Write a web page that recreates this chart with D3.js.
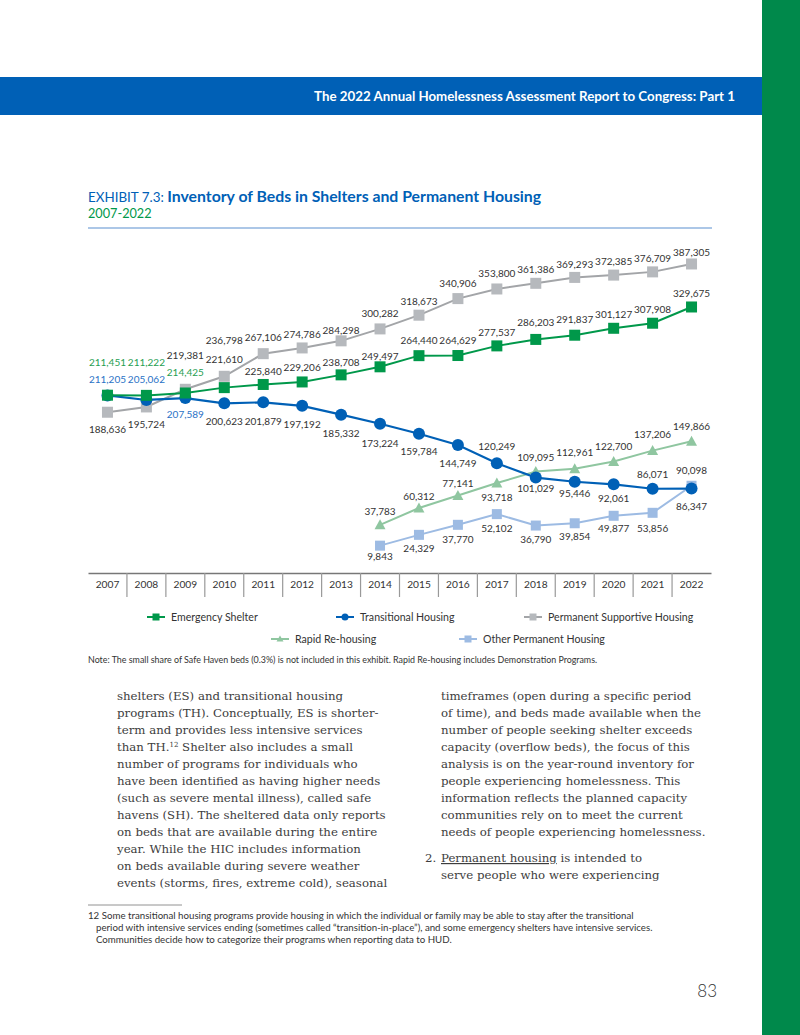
<!DOCTYPE html>
<html>
<head>
<meta charset="utf-8">
<script src="https://cdn.jsdelivr.net/npm/d3@7"></script>
<style>
  body { margin: 0; background: #fff; }
  svg text { font-family: Lato, "Open Sans", sans-serif; }
  .serif { font-family: "DejaVu Serif", serif !important; }
</style>
</head>
<body>
<svg id="page" width="800" height="1035"></svg>
<script>
const years = ["2007","2008","2009","2010","2011","2012","2013","2014","2015","2016","2017","2018","2019","2020","2021","2022"];
const emergencyShelter = [211451,211222,214425,221610,225840,229206,238708,249497,264440,264629,277537,286203,291837,301127,307908,329675];
const transitionalHousing = [211205,205062,207589,200623,201879,197192,185332,173224,159784,144749,120249,101029,95446,92061,86071,86347];
const permanentSupportive = [188636,195724,219381,236798,267106,274786,284298,300282,318673,340906,353800,361386,369293,372385,376709,387305];
const rapidRehousing = [null,null,null,null,null,null,null,37783,60312,77141,93718,109095,112961,122700,137206,149866];
const otherPermanent = [null,null,null,null,null,null,null,9843,24329,37770,52102,36790,39854,49877,53856,90098];

// label offsets (px above/below the marker)
const esDy  = [-33,-33,-21,-28,-13,-15,-13,-11,-15,-15,-14,-17,-16,-14,-14,-14];
const thDy  = [-16,-21,16,18,19,18,19,20,18,18,-17,11,12,14,-14,18];
const psDy  = [17,17,-34,-36,-16,-14,-11,-16,-14,-15,-16,-14,-13,-14,-14,-12];
const rrDy  = [0,0,0,0,0,0,0,-14,-12,-12,14,-14,-16,-15,-16,-15];
const opDy  = [0,0,0,0,0,0,0,11,13,14,14,14,13,13,15,-15];

const series = [
  { name: "Other Permanent Housing", values: otherPermanent, dy: opDy, color: "#9dbbe3", line: "#9dbbe3", shape: "square", size: 10, lw: 2 },
  { name: "Rapid Re-housing", values: rapidRehousing, dy: rrDy, color: "#8fc6a0", line: "#8fc6a0", shape: "triangle", size: 11, lw: 2 },
  { name: "Permanent Supportive Housing", values: permanentSupportive, dy: psDy, color: "#b6b9bd", line: "#a3a5a8", shape: "square", size: 11, lw: 2 },
  { name: "Transitional Housing", values: transitionalHousing, dy: thDy, color: "#0060b6", line: "#0060b6", shape: "circle", size: 12, lw: 2.2, labelColor: "#2a72c6", colored: 3 },
  { name: "Emergency Shelter", values: emergencyShelter, dy: esDy, color: "#00984a", line: "#00984a", shape: "square", size: 11, lw: 2, labelColor: "#1f9e52", colored: 3 }
];

const legendRows = [
  ["Emergency Shelter", "Transitional Housing", "Permanent Supportive Housing"],
  ["Rapid Re-housing", "Other Permanent Housing"]
];

const svg = d3.select("#page");
svg.append("rect").attr("width", 800).attr("height", 1035).attr("fill", "#fff");

// page chrome
svg.append("rect").attr("x", 762).attr("y", 0).attr("width", 38).attr("height", 1035).attr("fill", "#00894b");
svg.append("rect").attr("x", 0).attr("y", 77).attr("width", 762).attr("height", 38).attr("fill", "#0060b6");
svg.append("text").attr("x", 735).attr("y", 101).attr("text-anchor", "end")
  .attr("fill", "#fff").attr("font-size", 13.3).attr("font-weight", 700)
  .text("The 2022 Annual Homelessness Assessment Report to Congress: Part 1");

// title
const title = svg.append("text").attr("x", 88).attr("y", 202).attr("fill", "#0060b6");
title.append("tspan").attr("font-size", 13.4).text("EXHIBIT 7.3: ");
title.append("tspan").attr("font-size", 15.8).attr("font-weight", 700).text("Inventory of Beds in Shelters and Permanent Housing");
svg.append("text").attr("x", 88).attr("y", 218).attr("fill", "#00984a").attr("font-size", 12.7).text("2007-2022");
svg.append("line").attr("x1", 88).attr("x2", 712).attr("y1", 228).attr("y2", 228)
  .attr("stroke", "#5b8fcf").attr("stroke-width", 1.2);

// scales
const x = d3.scaleBand().domain(years).range([88, 711]);
const cx = d => x(d) + x.bandwidth() / 2;
const y = d3.scaleLinear().domain([0, 400000]).range([553, 254.5]);

// x axis with separators
const axisY = 573;
const gx = svg.append("g").attr("transform", `translate(0,${axisY})`)
  .call(d3.axisBottom(x).tickSize(0).tickPadding(8));
gx.select(".domain").attr("stroke", "#777").attr("stroke-width", 1.5);
gx.selectAll("text").attr("font-family", "Lato").attr("font-size", 10.2).attr("fill", "#333");
svg.append("g").selectAll("line").data(years.slice(1)).enter().append("line")
  .attr("x1", d => x(d)).attr("x2", d => x(d))
  .attr("y1", axisY).attr("y2", axisY + 24)
  .attr("stroke", "#999").attr("stroke-width", 1.2);

function marker(sel, shape, size, color) {
  if (shape === "circle") {
    sel.append("circle").attr("r", size / 2).attr("fill", color);
  } else if (shape === "triangle") {
    sel.append("path").attr("d", `M0,${-size / 2}L${size / 2},${size / 2 - 1}L${-size / 2},${size / 2 - 1}Z`).attr("fill", color);
  } else {
    sel.append("rect").attr("x", -size / 2).attr("y", -size / 2).attr("width", size).attr("height", size).attr("fill", color);
  }
}

const line = d3.line().defined(d => d.v != null).x(d => cx(d.year)).y(d => y(d.v));

series.forEach(s => {
  const pts = years.map((yr, i) => ({ year: yr, v: s.values[i], i }));
  svg.append("path").datum(pts).attr("d", line)
    .attr("fill", "none").attr("stroke", s.line).attr("stroke-width", s.lw);
  svg.append("g").selectAll("g").data(pts.filter(p => p.v != null)).enter().append("g")
    .attr("transform", p => `translate(${cx(p.year)},${y(p.v)})`)
    .each(function () { marker(d3.select(this), s.shape, s.size, s.color); });
});

// value labels on top
series.forEach(s => {
  const pts = years.map((yr, i) => ({ year: yr, v: s.values[i], i })).filter(p => p.v != null);
  svg.append("g").selectAll("text").data(pts).enter().append("text")
    .attr("x", p => cx(p.year))
    .attr("y", p => y(p.v) + s.dy[p.i] + 3.7)
    .attr("text-anchor", "middle")
    .attr("font-size", 10)
    .attr("fill", p => (s.colored && p.i < s.colored) ? s.labelColor : "#333")
    .text(p => d3.format(",")(p.v));
});

// legend
const legendPos = {
  "Emergency Shelter": [147, 617],
  "Transitional Housing": [336, 617],
  "Permanent Supportive Housing": [524, 617],
  "Rapid Re-housing": [271, 639],
  "Other Permanent Housing": [459, 639]
};
legendRows.flat().forEach(name => {
  const s = series.find(d => d.name === name);
  const [lx, ly] = legendPos[name];
  const g = svg.append("g").attr("transform", `translate(${lx},${ly})`);
  g.append("line").attr("x1", 0).attr("x2", 18).attr("stroke", s.line).attr("stroke-width", 2);
  const m = g.append("g").attr("transform", "translate(9,0)");
  marker(m, s.shape, 7, s.color);
  g.append("text").attr("x", 24).attr("y", 3.8).attr("font-size", 10.6).attr("fill", "#333").text(name);
});

svg.append("text").attr("x", 88).attr("y", 663).attr("font-size", 8.9).attr("fill", "#333")
  .text("Note: The small share of Safe Haven beds (0.3%) is not included in this exhibit. Rapid Re-housing includes Demonstration Programs.");

// body text
const leftLines = [
  "shelters (ES) and transitional housing",
  "programs (TH). Conceptually, ES is shorter-",
  "term and provides less intensive services",
  "than TH.|12| Shelter also includes a small",
  "number of programs for individuals who",
  "have been identified as having higher needs",
  "(such as severe mental illness), called safe",
  "havens (SH). The sheltered data only reports",
  "on beds that are available during the entire",
  "year. While the HIC includes information",
  "on beds available during severe weather",
  "events (storms, fires, extreme cold), seasonal"
];
const rightLines = [
  "timeframes (open during a specific period",
  "of time), and beds made available when the",
  "number of people seeking shelter exceeds",
  "capacity (overflow beds), the focus of this",
  "analysis is on the year-round inventory for",
  "people experiencing homelessness. This",
  "information reflects the planned capacity",
  "communities rely on to meet the current",
  "needs of people experiencing homelessness."
];

const bodySize = 11.75, lh = 17;
function bodyBlock(lines, bx, by) {
  lines.forEach((ln, i) => {
    const t = svg.append("text").attr("class", "serif").attr("x", bx).attr("y", by + i * lh)
      .attr("font-size", bodySize).attr("fill", "#3d3d3d");
    const parts = ln.split("|");
    parts.forEach((p, k) => {
      if (k % 2 === 1) t.append("tspan").attr("font-size", 7).attr("dy", -4).text(p);
      else t.append("tspan").attr("dy", k > 0 ? 4 : 0).text(p);
    });
  });
}
bodyBlock(leftLines, 117, 700);
bodyBlock(rightLines, 441, 700);

const item = svg.append("text").attr("class", "serif").attr("x", 425).attr("y", 862)
  .attr("font-size", bodySize).attr("fill", "#3d3d3d");
item.append("tspan").text("2.");
item.append("tspan").attr("x", 441).attr("text-decoration", "underline").text("Permanent housing");
item.append("tspan").text(" is intended to");
svg.append("text").attr("class", "serif").attr("x", 441).attr("y", 879)
  .attr("font-size", bodySize).attr("fill", "#3d3d3d").text("serve people who were experiencing");

// footnote
svg.append("line").attr("x1", 88).attr("x2", 182).attr("y1", 905).attr("y2", 905).attr("stroke", "#777").attr("stroke-width", 0.8);
const foot = [
  ["12 Some transitional housing programs provide housing in which the individual or family may be able to stay after the transitional", 88],
  ["period with intensive services ending (sometimes called “transition-in-place”), and some emergency shelters have intensive services.", 96],
  ["Communities decide how to categorize their programs when reporting data to HUD.", 96]
];
foot.forEach((f, i) => {
  svg.append("text").attr("x", f[1]).attr("y", 919 + i * 12).attr("font-size", 9.7).attr("fill", "#333").text(f[0]);
});

svg.append("text").attr("x", 717).attr("y", 997).attr("text-anchor", "end")
  .attr("font-size", 17).attr("font-weight", 300).attr("fill", "#333").text("83");
</script>
</body>
</html>
